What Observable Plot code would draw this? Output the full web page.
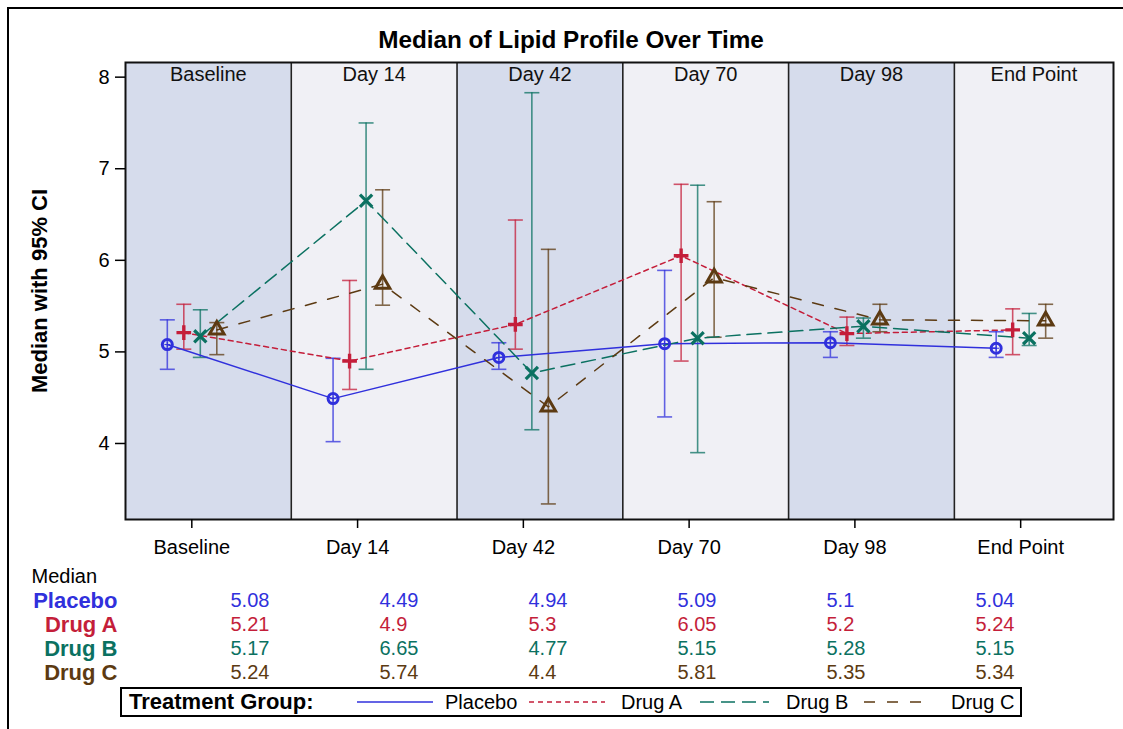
<!DOCTYPE html>
<html><head><meta charset="utf-8">
<script src="https://cdn.jsdelivr.net/npm/d3@7"></script>
<script src="https://cdn.jsdelivr.net/npm/@observablehq/plot@0.6"></script>
<style>
body{margin:0;background:#fff;font-family:Arial,"Liberation Sans",sans-serif;}
#root{position:relative;width:1123px;height:729px;overflow:hidden;background:#fff;}
.abs{position:absolute;white-space:nowrap;}
</style></head><body><div id="root"></div>
<script>
// ---------- data ----------
const categories = ["Baseline","Day 14","Day 42","Day 70","Day 98","End Point"];
const seriesNames = ["Placebo","Drug A","Drug B","Drug C"];
const placeboMedian = [5.08,4.49,4.94,5.09,5.10,5.04];
const placeboLow    = [4.81,4.02,4.81,4.29,4.94,4.94];
const placeboHigh   = [5.35,4.93,5.10,5.89,5.22,5.22];
const drugAMedian = [5.21,4.90,5.30,6.05,5.20,5.24];
const drugALow    = [5.03,4.59,5.03,4.90,5.07,4.97];
const drugAHigh   = [5.52,5.78,6.44,6.83,5.38,5.47];
const drugBMedian = [5.17,6.65,4.77,5.15,5.28,5.15];
const drugBLow    = [4.94,4.81,4.15,3.90,5.15,5.07];
const drugBHigh   = [5.46,7.50,7.83,6.82,5.37,5.42];
const drugCMedian = [5.24,5.74,4.40,5.81,5.35,5.34];
const drugCLow    = [4.97,5.51,3.34,5.16,5.22,5.15];
const drugCHigh   = [5.32,6.77,6.12,6.64,5.52,5.52];
const medianLabels = {
  "Placebo": ["5.08","4.49","4.94","5.09","5.1","5.04"],
  "Drug A":  ["5.21","4.9","5.3","6.05","5.2","5.24"],
  "Drug B":  ["5.17","6.65","4.77","5.15","5.28","5.15"],
  "Drug C":  ["5.24","5.74","4.4","5.81","5.35","5.34"]
};
const yTicks = [4,5,6,7,8];

// ---------- styles ----------
const seriesColors = ["#3030dc","#c41e3a","#0b7161","#5c3a12"];
const seriesDash = [null,"5,4","14,7","11,12"];
const seriesSymbols = ["circle","plus","times","triangle"];
const seriesR = [5,4.8,5.6,5.4];
const seriesSW = [3,3.4,3.2,3];
const seriesDx = [-24.5,-8,8.5,25];
const bandFills = ["#d6dcec","#f0f0f5"];
const xMin = -0.4, xMax = 5.56;

const medians = [placeboMedian,drugAMedian,drugBMedian,drugCMedian];
const lows = [placeboLow,drugALow,drugBLow,drugCLow];
const highs = [placeboHigh,drugAHigh,drugBHigh,drugCHigh];

const root = document.getElementById("root");

// outer border
const border = document.createElement("div");
border.className = "abs";
border.style.cssText = "left:7px;top:7px;width:1200px;height:800px;border-left:2px solid #000;border-top:2px solid #000;";
root.appendChild(border);

// title
const title = document.createElement("div");
title.className = "abs";
title.textContent = "Median of Lipid Profile Over Time";
title.style.cssText = "left:571px;top:27px;transform:translateX(-50%);font-weight:bold;font-size:24.3px;line-height:26px;";
root.appendChild(title);

// y label
const ylab = document.createElement("div");
ylab.className = "abs";
ylab.textContent = "Median with 95% CI";
ylab.style.cssText = "left:40px;top:291px;transform:translate(-50%,-50%) rotate(-90deg);font-weight:bold;font-size:22px;line-height:24px;";
root.appendChild(ylab);

// ---------- main chart ----------
const bands = categories.map((c,i)=>({c, i, x1: i-0.4, x2: Math.min(i+0.6, xMax)}));
const capSymbol = {draw(ctx, size){ const h = Math.sqrt(size/Math.PI); ctx.moveTo(-h,0); ctx.lineTo(h,0); }};

const marks = [
  Plot.rect(bands, {x1:"x1", x2:"x2", fill:(d)=>bandFills[d.i%2]}),
  Plot.ruleX(bands.slice(1), {x:"x1", stroke:"#222", strokeWidth:1.6}),
  Plot.text(bands, {x:(d)=>(d.x1+d.x2)/2, text:"c", frameAnchor:"top", lineAnchor:"top", dy:4, fontSize:20, fill:"#111"})
];
seriesNames.forEach((name, s) => {
  const rows = categories.map((c,i)=>({i, m: medians[s][i], lo: lows[s][i], hi: highs[s][i]}));
  const col = seriesColors[s];
  marks.push(Plot.ruleX(rows, {x:"i", y1:"lo", y2:"hi", dx:seriesDx[s], stroke:col, strokeOpacity:0.75, strokeWidth:1.6}));
  marks.push(Plot.dot(rows, {x:"i", y:"lo", dx:seriesDx[s], symbol:capSymbol, r:7.5, stroke:col, strokeOpacity:0.75, strokeWidth:1.6, fill:"none"}));
  marks.push(Plot.dot(rows, {x:"i", y:"hi", dx:seriesDx[s], symbol:capSymbol, r:7.5, stroke:col, strokeOpacity:0.75, strokeWidth:1.6, fill:"none"}));
});
seriesNames.forEach((name, s) => {
  const rows = categories.map((c,i)=>({i, m: medians[s][i]}));
  marks.push(Plot.line(rows, {x:"i", y:"m", dx:seriesDx[s], stroke:seriesColors[s], strokeWidth:1.5, strokeDasharray:seriesDash[s]}));
});
seriesNames.forEach((name, s) => {
  const rows = categories.map((c,i)=>({i, m: medians[s][i]}));
  marks.push(Plot.dot(rows, {x:"i", y:"m", dx:seriesDx[s], symbol:seriesSymbols[s], r:seriesR[s], stroke:seriesColors[s], strokeWidth:seriesSW[s], fill:"none"}));
  if (s === 0) marks.push(Plot.dot(rows, {x:"i", y:"m", dx:seriesDx[s], symbol:"plus", r:2, stroke:seriesColors[s], strokeWidth:1, fill:"none"}));
});
marks.push(Plot.frame({stroke:"#111", strokeWidth:2}));
marks.push(Plot.axisY({ticks:yTicks, tickFormat:(d)=>String(d), tickSize:10, tickPadding:6, label:null, strokeWidth:1.5}));
marks.push(Plot.axisX({ticks:[0,1,2,3,4,5], tickFormat:(i)=>categories[i], tickSize:9, tickPadding:11, label:null, strokeWidth:1.5}));

const chart = Plot.plot({
  width:1123, height:560,
  marginTop:62, marginBottom:41, marginLeft:125, marginRight:10,
  x:{domain:[xMin,xMax]},
  y:{domain:[3.17,8.16]},
  style:{fontFamily:"Arial, 'Liberation Sans', sans-serif", fontSize:"20px", color:"#000", background:"transparent", overflow:"visible"},
  marks
});
const chartWrap = document.createElement("div");
chartWrap.className = "abs";
chartWrap.style.cssText = "left:0;top:0;";
chartWrap.appendChild(chart);
root.appendChild(chartWrap);

// ---------- median table ----------
const tableRows = [];
seriesNames.forEach((name, s) => categories.forEach((c,i) => tableRows.push({name, c, t: medianLabels[name][i], col: seriesColors[s]})));
const table = Plot.plot({
  width:1123, height:135,
  margin:0,
  x:{type:"point", domain:categories, range:[228.6,976], padding:0, axis:null},
  y:{type:"point", domain:["Median", ...seriesNames], range:[19,118], padding:0, axis:null},
  style:{fontFamily:"Arial, 'Liberation Sans', sans-serif", fontSize:"20px", color:"#000", background:"transparent", overflow:"visible"},
  marks:[
    Plot.text(["Median"], {y:(d)=>d, text:(d)=>d, frameAnchor:"left", dx:31, textAnchor:"start", fill:"#000", fontSize:20}),
    Plot.text(seriesNames, {y:(d)=>d, text:(d)=>d, frameAnchor:"left", dx:117, textAnchor:"end", fill:(d,i)=>seriesColors[i], fontWeight:"bold", fontSize:22}),
    Plot.text(tableRows, {x:"c", y:"name", text:"t", fill:"col", textAnchor:"start", fontSize:20})
  ]
});
const tableWrap = document.createElement("div");
tableWrap.className = "abs";
tableWrap.style.cssText = "left:0;top:555px;";
tableWrap.appendChild(table);
root.appendChild(tableWrap);

// ---------- legend ----------
const legendBox = document.createElement("div");
legendBox.className = "abs";
legendBox.style.cssText = "left:120px;top:687px;width:898px;height:26px;border:2px solid #000;";
root.appendChild(legendBox);
const lgTitle = document.createElement("div");
lgTitle.className = "abs";
lgTitle.textContent = "Treatment Group:";
lgTitle.style.cssText = "left:129px;top:689px;font-weight:bold;font-size:22px;line-height:26px;";
root.appendChild(lgTitle);
const lineX = [[357,433],[529,605],[700,769],[864,930]];
const textX = [445,621,786,951];
seriesNames.forEach((name, s) => {
  const svg = document.createElementNS("http://www.w3.org/2000/svg","svg");
  svg.setAttribute("width", lineX[s][1]-lineX[s][0]);
  svg.setAttribute("height", 6);
  svg.setAttribute("class","abs");
  svg.style.left = lineX[s][0]+"px";
  svg.style.top = "699px";
  const ln = document.createElementNS("http://www.w3.org/2000/svg","line");
  ln.setAttribute("x1",0); ln.setAttribute("x2",lineX[s][1]-lineX[s][0]);
  ln.setAttribute("y1",3); ln.setAttribute("y2",3);
  ln.setAttribute("stroke",seriesColors[s]); ln.setAttribute("stroke-width",1.6);
  if (seriesDash[s]) ln.setAttribute("stroke-dasharray", seriesDash[s]);
  svg.appendChild(ln);
  root.appendChild(svg);
  const tx = document.createElement("div");
  tx.className = "abs";
  tx.textContent = name;
  tx.style.cssText = `left:${textX[s]}px;top:689px;font-size:20px;line-height:26px;`;
  root.appendChild(tx);
});
</script></body></html>
